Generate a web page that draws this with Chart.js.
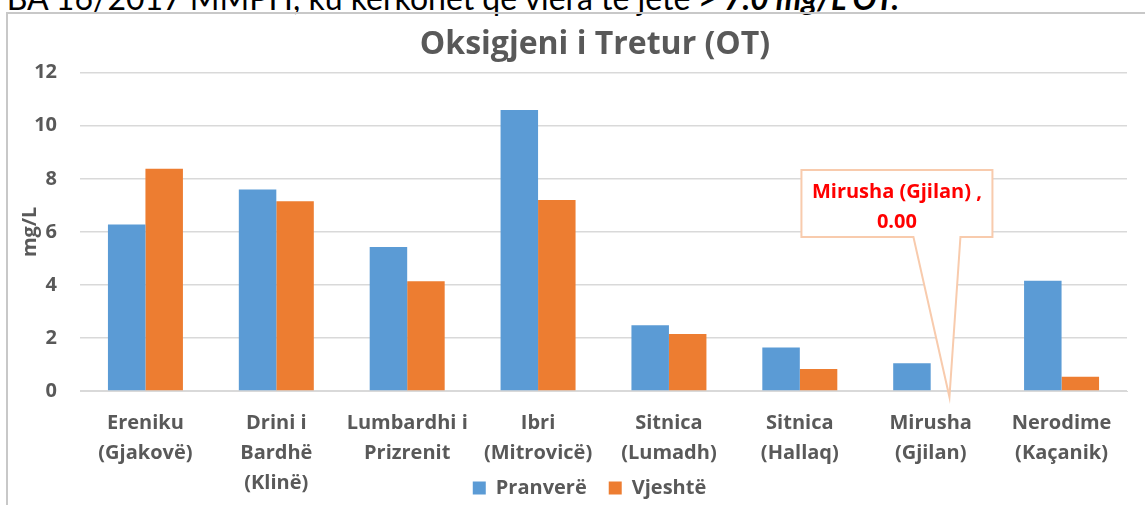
<!DOCTYPE html>
<html>
<head>
<meta charset="utf-8">
<script src="https://cdn.jsdelivr.net/npm/chart.js@4"></script>
<style>
  html, body { margin: 0; padding: 0; background: #fff; overflow: hidden; width: 1145px; height: 505px; }
  #note { position: absolute; right: 246px; top: -19px; font: 32px Lato, sans-serif; line-height: 33px; white-space: nowrap; color: #000; }
  #note b { font-style: italic; }
  #frame { position: absolute; left: 6px; top: 12px; width: 1170px; height: 560px; border: 2px solid #c8c8c8; }
  #c { position: absolute; left: 0; top: 0; }
</style>
</head>
<body>
<div id="note">BA 16/2017 MMPH, ku kërkohet që vlera të jetë <b>&gt; 7.0 mg/L OT.</b></div>
<div id="frame"><canvas id="c" width="1170" height="560" style="width:1170px;height:560px"></canvas></div>
<script>
const categories = [
  ["Ereniku", "(Gjakovë)"],
  ["Drini i", "Bardhë", "(Klinë)"],
  ["Lumbardhi i", "Prizrenit"],
  ["Ibri", "(Mitrovicë)"],
  ["Sitnica", "(Lumadh)"],
  ["Sitnica", "(Hallaq)"],
  ["Mirusha", "(Gjilan)"],
  ["Nerodime", "(Kaçanik)"]
];
const seriesNames = ["Pranverë", "Vjeshtë"];
const pranvere = [6.28, 7.60, 5.43, 10.59, 2.48, 1.64, 1.05, 4.16];
const vjeshte  = [8.38, 7.15, 4.14, 7.20, 2.15, 0.83, 0.00, 0.54];
const yTicks = [0, 2, 4, 6, 8, 10, 12];
const calloutLines = ["Mirusha (Gjilan) ,", "0.00"];
const calloutIndex = 6;

const GRAY = '#595959';
const FONT = '"Open Sans", Lato, sans-serif';
const TICK_SIZE = 20;
const LEGEND_SIZE = 20;
const LEGEND_PAD = 22;
const LEGEND_CENTER_Y = 474;
const AREA_BOTTOM = 377;
const LEGEND_SHIFT = 22;
const TITLE_SHIFT = 27.5;

const calloutPlugin = {
  id: 'callout',
  afterLayout(chart) {
    const lg = chart.legend;
    const h = lg.height;
    lg.top = LEGEND_CENTER_Y - LEGEND_PAD - LEGEND_SIZE / 2;
    lg.bottom = lg.top + h;
    lg.left += LEGEND_SHIFT;
    lg.right += LEGEND_SHIFT;
    const tb = chart.titleBlock;
    tb.left += TITLE_SHIFT;
    tb.right += TITLE_SHIFT;
  },
  afterDatasetsDraw(chart) {
    const meta = chart.getDatasetMeta(1);
    const bar = meta.data[calloutIndex];
    const yS = chart.scales.y;
    const tipX = bar.x;
    const zeroY = yS.getPixelForValue(vjeshte[calloutIndex]);
    const tipY = zeroY + 6;
    const left = tipX - 148, right = tipX + 43;
    const top = zeroY - 221, bottom = top + 67;
    const ctx = chart.ctx;
    ctx.save();
    ctx.beginPath();
    ctx.moveTo(left, top);
    ctx.lineTo(right, top);
    ctx.lineTo(right, bottom);
    ctx.lineTo(tipX + 11, bottom);
    ctx.lineTo(tipX, tipY);
    ctx.lineTo(tipX - 36, bottom);
    ctx.lineTo(left, bottom);
    ctx.closePath();
    ctx.fillStyle = '#ffffff';
    ctx.fill();
    ctx.lineWidth = 2;
    ctx.strokeStyle = '#F8CBAD';
    ctx.stroke();
    ctx.fillStyle = '#FF0000';
    ctx.font = 'bold 20px ' + FONT;
    ctx.textAlign = 'center';
    ctx.textBaseline = 'middle';
    const cx = (left + right) / 2;
    ctx.fillText(calloutLines[0], cx, top + 22);
    ctx.fillText(calloutLines[1], cx, top + 52);
    ctx.restore();
  }
};

new Chart(document.getElementById('c'), {
  type: 'bar',
  data: {
    labels: categories,
    datasets: [
      { label: seriesNames[0], data: pranvere, backgroundColor: '#5B9BD5', categoryPercentage: 0.573, barPercentage: 1 },
      { label: seriesNames[1], data: vjeshte, backgroundColor: '#ED7D31', categoryPercentage: 0.573, barPercentage: 1 }
    ]
  },
  options: {
    responsive: false,
    devicePixelRatio: 1,
    animation: false,
    layout: { padding: { left: 0, right: 51, top: 0, bottom: 0 } },
    plugins: {
      title: {
        display: true,
        text: 'Oksigjeni i Tretur (OT)',
        color: GRAY,
        font: { family: FONT, size: 32, weight: 'bold', lineHeight: 1.2 },
        padding: { top: 11.8, bottom: 8.5 }
      },
      legend: {
        position: 'bottom',
        labels: {
          color: GRAY,
          font: { family: FONT, size: LEGEND_SIZE, weight: 'bold' },
          boxWidth: 13,
          boxHeight: 13,
          padding: LEGEND_PAD
        }
      },
      tooltip: { enabled: false }
    },
    scales: {
      x: {
        grid: { display: false, drawTicks: false },
        border: { display: true, color: '#d9d9d9', width: 1 },
        ticks: {
          color: GRAY,
          font: { family: FONT, size: TICK_SIZE, weight: 'bold', lineHeight: 1.5 },
          padding: 17,
          maxRotation: 0,
          autoSkip: false
        },
        afterFit(scale) {
          scale.height = scale.chart.height - scale.chart.legend.height - AREA_BOTTOM;
        }
      },
      y: {
        min: yTicks[0],
        max: yTicks[yTicks.length - 1],
        afterBuildTicks(scale) { scale.ticks = yTicks.map(v => ({ value: v })); },
        grid: { color: '#d9d9d9', lineWidth: 1.5, drawTicks: false },
        border: { display: false },
        ticks: {
          color: GRAY,
          font: { family: FONT, size: TICK_SIZE, weight: 'bold' },
          padding: 23
        },
        title: {
          display: true,
          text: 'mg/L',
          color: GRAY,
          font: { family: FONT, size: TICK_SIZE, weight: 'bold', lineHeight: 1.2 },
          padding: { top: 10, bottom: 0 }
        },
        afterFit(scale) { scale.width = 72; }
      }
    }
  },
  plugins: [calloutPlugin]
});
</script>
</body>
</html>
